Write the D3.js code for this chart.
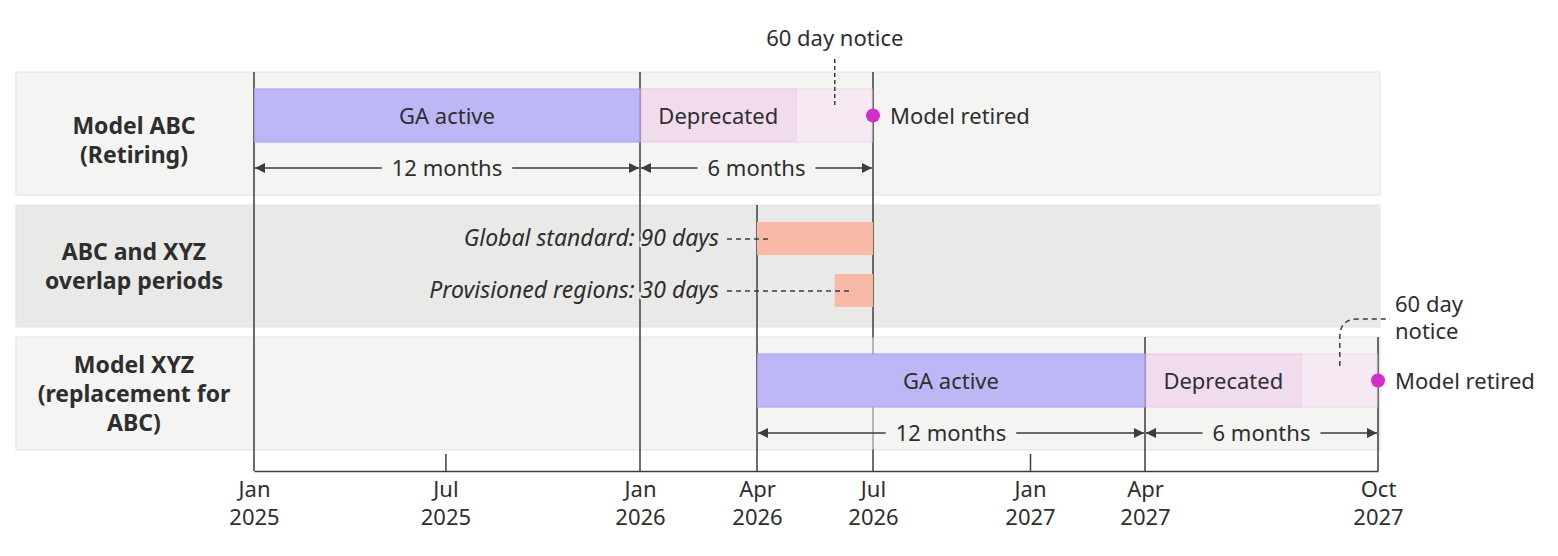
<!DOCTYPE html>
<html>
<head>
<meta charset="utf-8">
<script src="https://cdn.jsdelivr.net/npm/d3@7"></script>
<style>
  body { margin: 0; background: #fff; }
  text { font-family: "Noto Sans", sans-serif; fill: #2e2e2e; }
</style>
</head>
<body>
<svg id="chart" width="1558" height="556"></svg>
<script>
// axis is schematic: each anchor date gets its own slot (piecewise time scale)
const anchorDates = ["2025-01-01", "2026-01-01", "2026-04-01", "2026-07-01", "2027-01-01", "2027-04-01", "2027-10-01"];
const anchorPx = [254, 640, 757, 873, 1030, 1145, 1378];

const rowLabels = [
  ["Model ABC", "(Retiring)"],
  ["ABC and XYZ", "overlap periods"],
  ["Model XYZ", "(replacement for", "ABC)"]
];

const tickDates = ["2025-01-01", "2025-07-01", "2026-01-01", "2026-04-01", "2026-07-01", "2027-01-01", "2027-04-01", "2027-10-01"];
const tickNames = ["Jan 2025", "Jul 2025", "Jan 2026", "Apr 2026", "Jul 2026", "Jan 2027", "Apr 2027", "Oct 2027"];
const minorTicks = ["2025-07-01", "2027-01-01"];

// vertical phase boundaries, starting at the given row
const boundaries = [
  { date: "2025-01-01", row: 0 },
  { date: "2026-01-01", row: 0 },
  { date: "2026-04-01", row: 1 },
  { date: "2026-07-01", row: 0 },
  { date: "2027-04-01", row: 2 },
  { date: "2027-10-01", row: 2 }
];

const gaPhases = [
  { row: 0, start: "2025-01-01", end: "2026-01-01", label: "GA active" },
  { row: 2, start: "2026-04-01", end: "2027-04-01", label: "GA active" }
];
const deprecatedPhases = [
  { row: 0, start: "2026-01-01", end: "2026-05-02", label: "Deprecated" },
  { row: 2, start: "2027-04-01", end: "2027-08-02", label: "Deprecated" }
];
const noticePhases = [
  { row: 0, start: "2026-05-02", end: "2026-07-01", note: ["60 day notice"] },
  { row: 2, start: "2027-08-02", end: "2027-10-01", note: ["60 day", "notice"] }
];
const retirements = [
  { row: 0, date: "2026-07-01", label: "Model retired" },
  { row: 2, date: "2027-10-01", label: "Model retired" }
];
const durationSpans = [
  { row: 0, start: "2025-01-01", end: "2026-01-01", label: "12 months" },
  { row: 0, start: "2026-01-01", end: "2026-07-01", label: "6 months" },
  { row: 2, start: "2026-04-01", end: "2027-04-01", label: "12 months" },
  { row: 2, start: "2027-04-01", end: "2027-10-01", label: "6 months" }
];

const overlapNames = ["Global standard: 90 days", "Provisioned regions: 30 days"];
const overlapStarts = ["2026-04-01", "2026-06-01"];
const overlapEnds = ["2026-07-01", "2026-07-01"];

// layout
const rowTop = [72, 205, 337];
const rowBottom = [195, 327, 450];
const rowFill = ["#f4f4f3", "#e9e9e8", "#f4f4f3"];
const labelShift = [7, 0, 0];
const bandX0 = 16, bandX1 = 1380, axisY = 471;
const barOff = 17, barH = 53, arrowOff = 96;
const lineColor = "#3d3d3d";
const fs = "22px";

const parse = d3.timeParse("%Y-%m-%d");
const x = d3.scaleTime().domain(anchorDates.map(parse)).range(anchorPx);
const svg = d3.select("#chart");

const defs = svg.append("defs");
defs.append("marker")
  .attr("id", "arrow")
  .attr("viewBox", "0 0 10 10")
  .attr("refX", 10).attr("refY", 5)
  .attr("markerUnits", "userSpaceOnUse")
  .attr("markerWidth", 11).attr("markerHeight", 10)
  .attr("orient", "auto-start-reverse")
  .append("path").attr("d", "M0,0L10,5L0,10z").attr("fill", lineColor);

// row bands
svg.append("g").selectAll("rect").data(rowLabels).join("rect")
  .attr("x", bandX0).attr("y", (d, i) => rowTop[i])
  .attr("width", bandX1 - bandX0).attr("height", (d, i) => rowBottom[i] - rowTop[i])
  .attr("fill", (d, i) => rowFill[i]).attr("stroke", "#e2e2e2");

// row labels
svg.append("g").selectAll("text").data(rowLabels).join("text")
  .attr("text-anchor", "middle")
  .style("font-weight", 700).style("font-size", "23px")
  .each(function(lines, i) {
    const c = (rowTop[i] + rowBottom[i]) / 2;
    const y0 = c - (lines.length - 1) / 2 * 29 + 8 + labelShift[i];
    d3.select(this).selectAll("tspan").data(lines).join("tspan")
      .attr("x", 134).attr("y", (d, j) => y0 + j * 29).text(d => d);
  });

// boundary lines
svg.append("g").selectAll("line").data(boundaries).join("line")
  .attr("x1", d => x(parse(d.date))).attr("x2", d => x(parse(d.date)))
  .attr("y1", d => rowTop[d.row]).attr("y2", axisY)
  .attr("stroke", lineColor).attr("stroke-width", 1.5);
// lines that pass behind a later row look faded there
svg.append("g").selectAll("line").data(boundaries.filter(d => d.row < 2 && d.date === "2026-07-01")).join("line")
  .attr("x1", d => x(parse(d.date))).attr("x2", d => x(parse(d.date)))
  .attr("y1", rowTop[2] + 0.5).attr("y2", rowBottom[2] - 0.5)
  .attr("stroke", "#cfcfcf").attr("stroke-width", 1.5);

// axis
const minorSet = new Set(minorTicks.map(d => +parse(d)));
const axis = d3.axisBottom(x)
  .tickValues(tickDates.map(parse))
  .tickSize(0).tickSizeOuter(0)
  .tickFormat((d, i) => tickNames[i]);
const gAxis = svg.append("g").attr("transform", `translate(0,${axisY})`).attr("color", lineColor).call(axis);
gAxis.select(".domain").attr("stroke-width", 1.5);
gAxis.selectAll(".tick line").filter(d => minorSet.has(+d)).attr("y2", -17).attr("stroke-width", 1.5);
gAxis.selectAll(".tick text")
  .attr("fill", "#2e2e2e").attr("dy", null).attr("y", null)
  .style("font-size", fs)
  .each(function(d, i) {
    const parts = tickNames[i].split(" ");
    const t = d3.select(this).text(null);
    parts.forEach((p, j) => t.append("tspan").attr("x", 0).attr("y", 26 + j * 28).text(p));
  });

const barY = d => rowTop[d.row] + barOff;

// GA bars
const ga = svg.append("g");
ga.selectAll("rect").data(gaPhases).join("rect")
  .attr("x", d => x(parse(d.start)) + 0.5).attr("y", barY)
  .attr("width", d => x(parse(d.end)) - x(parse(d.start)) - 1).attr("height", barH)
  .attr("fill", "#bdb8f5").attr("stroke", "#a39cf0");
ga.selectAll("text").data(gaPhases).join("text")
  .attr("x", d => (x(parse(d.start)) + x(parse(d.end))) / 2)
  .attr("y", d => barY(d) + barH / 2 + 8)
  .attr("text-anchor", "middle").style("font-size", fs).text(d => d.label);

// deprecated bars
const dep = svg.append("g");
dep.selectAll("rect").data(deprecatedPhases).join("rect")
  .attr("x", d => x(parse(d.start)) + 1).attr("y", barY)
  .attr("width", d => x(parse(d.end)) - x(parse(d.start)) - 1).attr("height", barH)
  .attr("fill", "#f1dcee").attr("stroke", "#e7c7e2");
dep.selectAll("text").data(deprecatedPhases).join("text")
  .attr("x", d => (x(parse(d.start)) + x(parse(d.end))) / 2)
  .attr("y", d => barY(d) + barH / 2 + 8)
  .attr("text-anchor", "middle").style("font-size", fs).text(d => d.label);

// 60 day notice bars
const notice = svg.append("g");
notice.selectAll("rect").data(noticePhases).join("rect")
  .attr("x", d => x(parse(d.start))).attr("y", barY)
  .attr("width", d => x(parse(d.end)) - x(parse(d.start)) - 1).attr("height", barH)
  .attr("fill", "#f6e9f4").attr("stroke", "#eed5ea");

// notice callouts
noticePhases.forEach(d => {
  const mx = (x(parse(d.start)) + x(parse(d.end))) / 2;
  const top = barY(d);
  if (d.note.length === 1) {
    svg.append("line")
      .attr("x1", mx).attr("x2", mx).attr("y1", top - 30).attr("y2", top + 16)
      .attr("stroke", lineColor).attr("stroke-width", 1.5).attr("stroke-dasharray", "4,3");
    svg.append("text").attr("x", mx).attr("y", top - 43)
      .attr("text-anchor", "middle").style("font-size", fs).text(d.note[0]);
  } else {
    const ex = x(parse(d.end));
    svg.append("path")
      .attr("d", `M${mx},${top + 12}V${top - 17}Q${mx},${top - 35} ${mx + 18},${top - 35}H${ex + 12}`)
      .attr("fill", "none").attr("stroke", lineColor).attr("stroke-width", 1.5).attr("stroke-dasharray", "5,4");
    svg.append("text").style("font-size", fs)
      .selectAll("tspan").data(d.note).join("tspan")
      .attr("x", ex + 17).attr("y", (t, j) => top - 42 + j * 27).text(t => t);
  }
});

// retirement dots
const ret = svg.append("g");
ret.selectAll("circle").data(retirements).join("circle")
  .attr("cx", d => x(parse(d.date))).attr("cy", d => barY(d) + barH / 2)
  .attr("r", 7).attr("fill", "#d12ecb");
ret.selectAll("text").data(retirements).join("text")
  .attr("x", d => x(parse(d.date)) + 17).attr("y", d => barY(d) + barH / 2 + 8)
  .style("font-size", fs).text(d => d.label);

// duration arrows
durationSpans.forEach(d => {
  const x0 = x(parse(d.start)), x1 = x(parse(d.end));
  const y = rowTop[d.row] + arrowOff, mid = (x0 + x1) / 2;
  const t = svg.append("text").attr("x", mid).attr("y", y + 8)
    .attr("text-anchor", "middle").style("font-size", fs).text(d.label);
  const w = t.node().getComputedTextLength();
  svg.append("line").attr("x1", mid - w / 2 - 10).attr("x2", x0 + 1).attr("y1", y).attr("y2", y)
    .attr("stroke", lineColor).attr("stroke-width", 1.5).attr("marker-end", "url(#arrow)");
  svg.append("line").attr("x1", mid + w / 2 + 10).attr("x2", x1 - 1).attr("y1", y).attr("y2", y)
    .attr("stroke", lineColor).attr("stroke-width", 1.5).attr("marker-end", "url(#arrow)");
});

// overlap periods
const ov = svg.append("g");
const ovY = i => rowTop[1] + 17 + i * 52;
ov.selectAll("rect").data(overlapNames).join("rect")
  .attr("x", (d, i) => x(parse(overlapStarts[i]))).attr("y", (d, i) => ovY(i))
  .attr("width", (d, i) => x(parse(overlapEnds[i])) - x(parse(overlapStarts[i]))).attr("height", 33)
  .attr("fill", "#f8b9a6");
ov.selectAll("line").data(overlapNames).join("line")
  .attr("x1", 727).attr("x2", (d, i) => x(parse(overlapStarts[i])) + 15)
  .attr("y1", (d, i) => ovY(i) + 17).attr("y2", (d, i) => ovY(i) + 17)
  .attr("stroke", lineColor).attr("stroke-width", 1.5).attr("stroke-dasharray", "5,4");
ov.selectAll("text").data(overlapNames).join("text")
  .attr("x", 719).attr("y", (d, i) => ovY(i) + 24)
  .attr("text-anchor", "end")
  .style("font-size", "23px").style("font-style", "italic")
  .attr("stroke", rowFill[1]).attr("stroke-width", 4).attr("paint-order", "stroke")
  .text(d => d);
</script>
</body>
</html>
